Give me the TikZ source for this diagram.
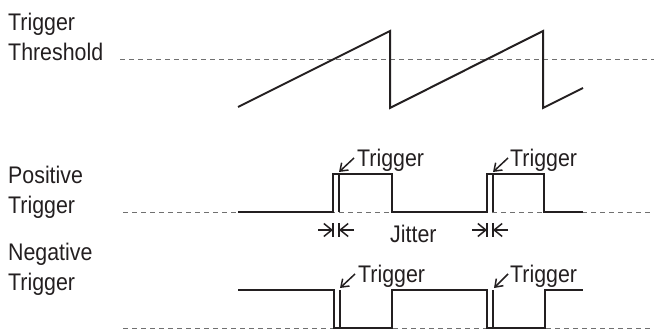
\documentclass[tikz,border=0pt]{standalone}
\usepackage{fontspec}
\setmainfont{Liberation Sans}[FakeStretch=0.89]
\usetikzlibrary{arrows.meta}
\definecolor{txt}{HTML}{231F20}
\definecolor{dashc}{HTML}{707070}
\begin{document}
\begin{tikzpicture}[x=1pt,y=-1pt,
  lbl/.style={anchor=base west,inner sep=0pt,text=txt,font=\fontsize{24}{30}\selectfont},
  wave/.style={draw=txt,line width=2pt,line join=miter},
  thin/.style={draw=txt,line width=1.3pt},
  refline/.style={draw=dashc,line width=1pt,dash pattern=on 5pt off 4pt},
  trarrow/.style={draw=txt,line width=1.5pt,-{Straight Barb[length=7pt,width=10pt,line width=1.5pt]}},
  jitarrow/.style={draw=txt,line width=1.5pt,-{Straight Barb[length=8pt,width=13pt,line width=1.5pt]}}]
\useasboundingbox (0,0) rectangle (654,329);

% left labels
\node[lbl] (l1) at (8,31) {Trigger};
\node[lbl] (l2) at (8,61) {Threshold};
\node[lbl] (l3) at (8,183) {Positive};
\node[lbl] (l4) at (8,213) {Trigger};
\node[lbl] (l5) at (8,260) {Negative};
\node[lbl] (l6) at (8,290) {Trigger};

% threshold + sawtooth
\draw[refline] (120,60) -- (654,60);
\draw[wave] (238,107) -- (390,31) -- (390,108) -- (543,31) -- (543,108) -- (583,88);

% positive trigger
\draw[refline] (123,212) -- (654,212);
\draw[wave] (238,212) -- (333,212) -- (333,174) -- (392,174) -- (392,212)
  -- (487,212) -- (487,174) -- (544,174) -- (544,212) -- (583,212);
\draw[wave] (339,212) -- (339,174);
\draw[wave] (493,212) -- (493,174);
\node[lbl] (pt1) at (357,166) {Trigger};
\node[lbl] (pt2) at (510,166) {Trigger};
\draw[trarrow] (354,158) -- (339,172);
\draw[trarrow] (508,158) -- (493,172);

% jitter
\draw[thin] (333,223) -- (333,237);
\draw[thin] (339,223) -- (339,237);
\draw[jitarrow] (318,230) -- (333,230);
\draw[jitarrow] (354,230) -- (339,230);
\draw[thin] (487,223) -- (487,237);
\draw[thin] (493,223) -- (493,237);
\draw[jitarrow] (472,230) -- (487,230);
\draw[jitarrow] (508,230) -- (493,230);
\node[lbl] (jit) at (390,242) {Jitter};

% negative trigger
\draw[refline] (123,328) -- (654,328);
\draw[wave] (238,290) -- (334,290) -- (334,328) -- (392,328) -- (392,290)
  -- (487,290) -- (487,328) -- (545,328) -- (545,290) -- (583,290);
\draw[wave] (340,290) -- (340,328);
\draw[wave] (493,290) -- (493,328);
\node[lbl] (nt1) at (358,282) {Trigger};
\node[lbl] (nt2) at (510,282) {Trigger};
\draw[trarrow] (355,274) -- (340,288);
\draw[trarrow] (508,274) -- (494,288);
\end{tikzpicture}
\end{document}
